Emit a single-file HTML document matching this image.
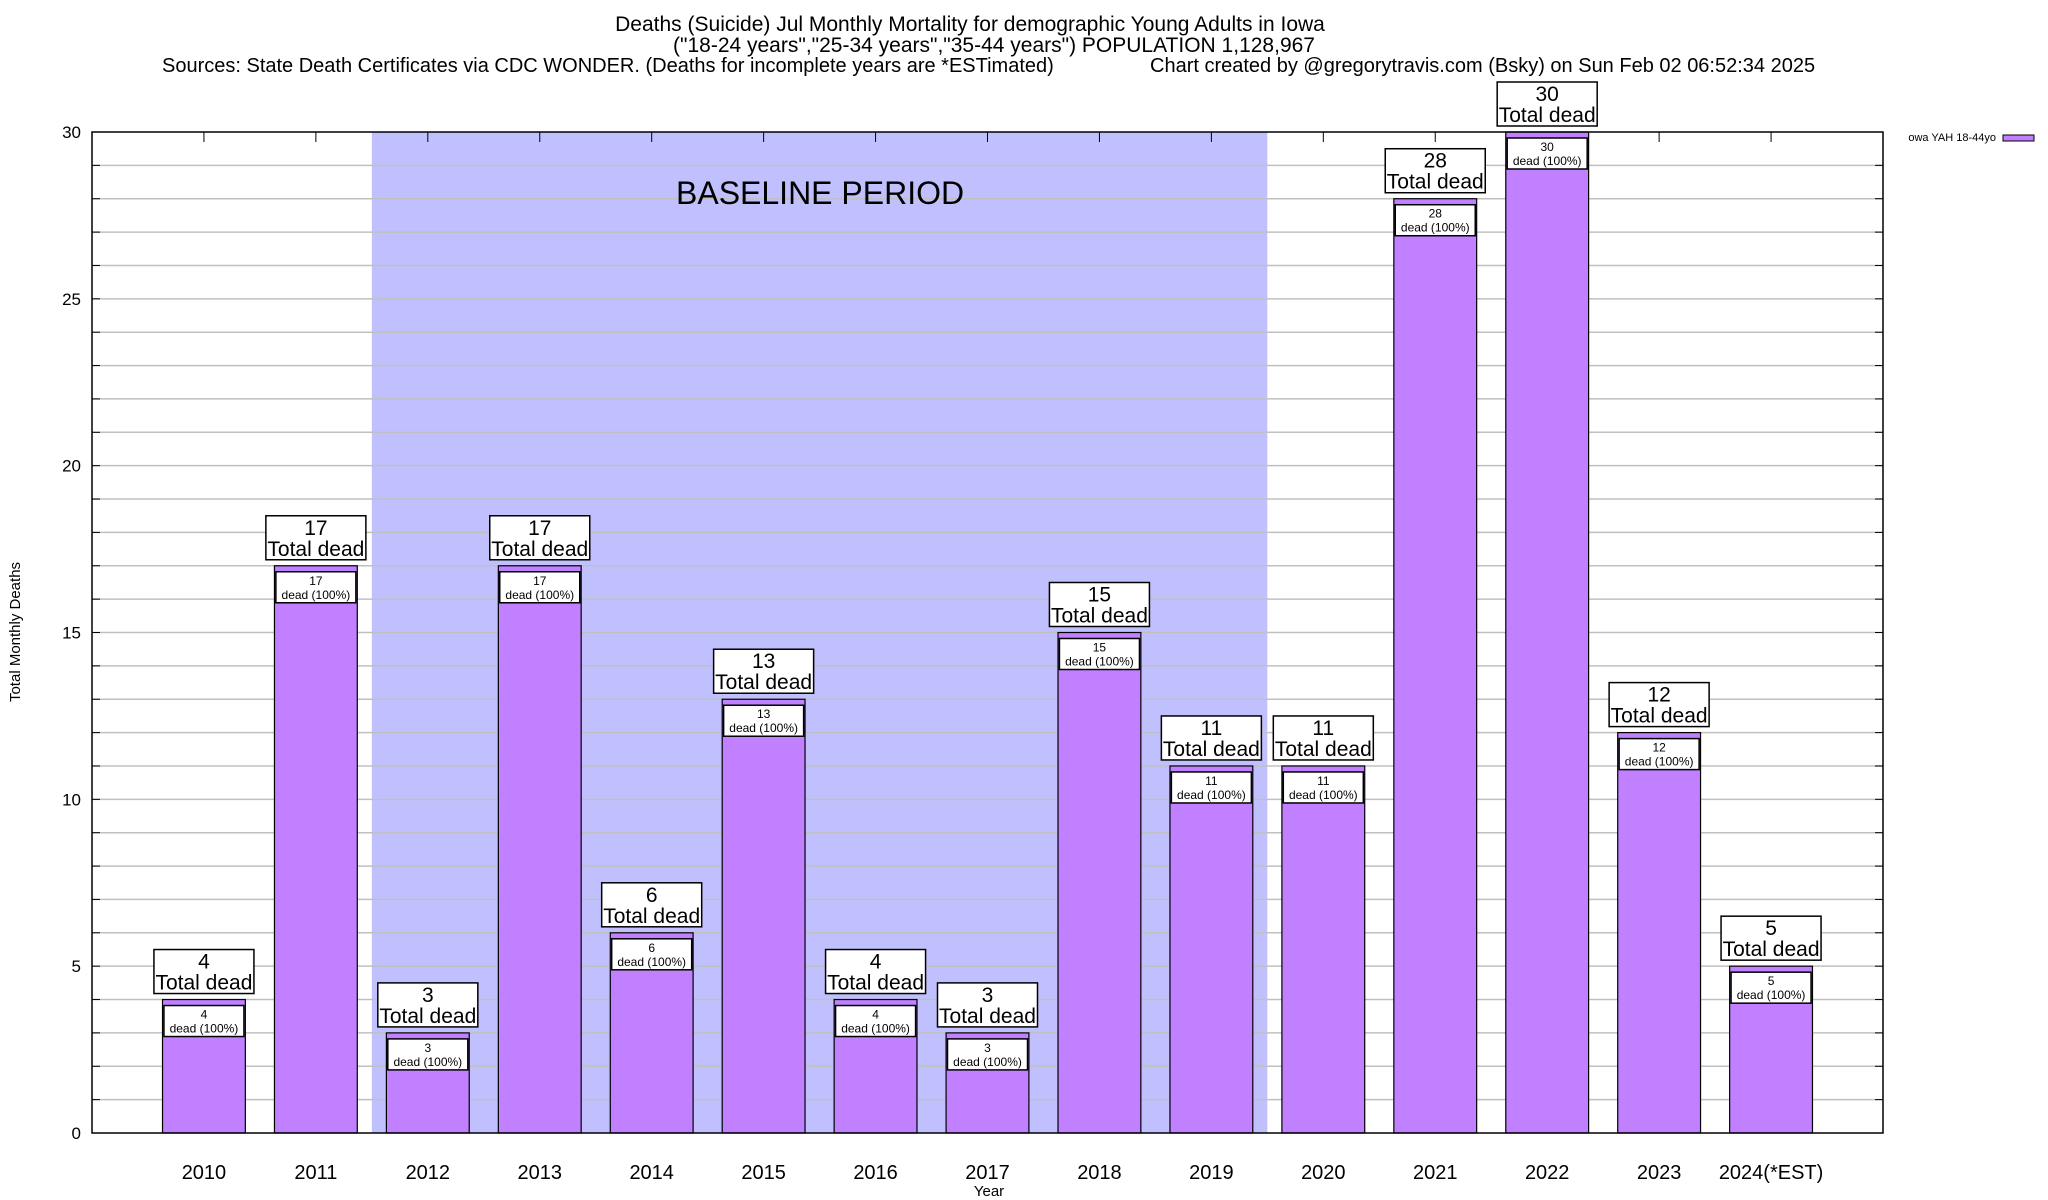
<!DOCTYPE html>
<html><head><meta charset="utf-8"><style>
html,body{margin:0;padding:0;background:#fff;}
svg{display:block;font-family:"Liberation Sans",sans-serif;}
</style></head><body>
<svg id="chart" width="2048" height="1200" viewBox="0 0 2048 1200" xmlns="http://www.w3.org/2000/svg">
<g font-size="20" text-anchor="middle">
<text x="970" y="31" font-size="21">Deaths (Suicide) Jul Monthly Mortality for demographic Young Adults in Iowa</text>
<text x="994" y="52" font-size="21">("18-24 years","25-34 years","35-44 years") POPULATION 1,128,967</text>
<text x="162" y="72" text-anchor="start">Sources: State Death Certificates via CDC WONDER. (Deaths for incomplete years are *ESTimated)</text>
<text x="1150" y="72" text-anchor="start">Chart created by @gregorytravis.com (Bsky) on Sun Feb 02 06:52:34 2025</text>
</g>
<g id="plot"></g>
<text x="20" y="632" font-size="15" text-anchor="middle" transform="rotate(-90 20 632)">Total Monthly Deaths</text>
<text x="989" y="1196" font-size="15" text-anchor="middle">Year</text>
<g>
<text x="1996" y="141" font-size="11" text-anchor="end">owa YAH 18-44yo</text>
<rect x="2003" y="135" width="31" height="6" fill="#c080ff" stroke="#000" stroke-width="1"/>
</g>
</svg>
<script>
const categories = ["2010","2011","2012","2013","2014","2015","2016","2017","2018","2019","2020","2021","2022","2023","2024(*EST)"];
const deaths = [4,17,3,17,6,13,4,3,15,11,11,28,30,12,5];
const yTicks = [0,5,10,15,20,25,30];
const baselineStart = 2.5, baselineEnd = 10.5;

const L=92,R=1883,T=132,B=1133;
const xMin=0,xMax=16,yMax=30;
const xs=v=>L+(v-xMin)/(xMax-xMin)*(R-L);
const ys=v=>B-v/yMax*(B-T);
const NS="http://www.w3.org/2000/svg";
const plot=document.getElementById('plot');
function mk(tag,attrs,parent,text){const e=document.createElementNS(NS,tag);for(const k in attrs)e.setAttribute(k,attrs[k]);if(text!==undefined)e.textContent=text;(parent||plot).appendChild(e);return e;}

let r=mk('rect',{x:xs(baselineStart),y:T,width:xs(baselineEnd)-xs(baselineStart),height:B-T,fill:'#c0c0ff'});


for(let v=1;v<yMax;v++){
  let g=mk('line',{x1:L,x2:R,y1:ys(v),y2:ys(v),stroke:'#c0c0c0','stroke-width':1.5});
  
  
  mk('line',{x1:L,x2:L+8,y1:ys(v),y2:ys(v),stroke:'#000'});
  mk('line',{x1:R-8,x2:R,y1:ys(v),y2:ys(v),stroke:'#000'});
}
let bt=mk('text',{x:676,y:204,'font-size':32},plot,'BASELINE PERIOD');



yTicks.forEach(v=>{
  let t=mk('text',{x:81,y:ys(v)+6,'font-size':17,'text-anchor':'end'},plot,String(v));
  
  
});

const slot=xs(1)-xs(0), bw=slot*0.74;
categories.forEach((c,i)=>{
  const cx=xs(i+1), v=deaths[i], top=ys(v);
  mk('line',{x1:cx,x2:cx,y1:B,y2:B-10,stroke:'#000'});
  mk('line',{x1:cx,x2:cx,y1:T,y2:T+10,stroke:'#000'});
  let b=mk('rect',{x:cx-bw/2,y:top,width:bw,height:B-top,fill:'#c080ff',stroke:'#000','stroke-width':1.2});
  
  
  let tl=mk('text',{x:cx,y:1179,'font-size':20,'text-anchor':'middle'},plot,c);
  
  
  let ob=mk('rect',{x:cx-50,y:top-50,width:100,height:44,fill:'#fff',stroke:'#000','stroke-width':1.5});
  
  
  mk('text',{x:cx,y:top-31,'font-size':21,'text-anchor':'middle'},plot,String(v));
  mk('text',{x:cx,y:top-10,'font-size':21,'text-anchor':'middle'},plot,'Total dead');
  let ib=mk('rect',{x:cx-40,y:top+6,width:80,height:31,fill:'#fff',stroke:'#000','stroke-width':1.5});
  
  
  mk('text',{x:cx,y:top+19,'font-size':12,'text-anchor':'middle'},plot,String(v));
  mk('text',{x:cx,y:top+33,'font-size':12,'text-anchor':'middle'},plot,'dead (100%)');
});
let ax=mk('rect',{x:L,y:T,width:R-L,height:B-T,fill:'none',stroke:'#000','stroke-width':1.5});


</script>
</body></html>
